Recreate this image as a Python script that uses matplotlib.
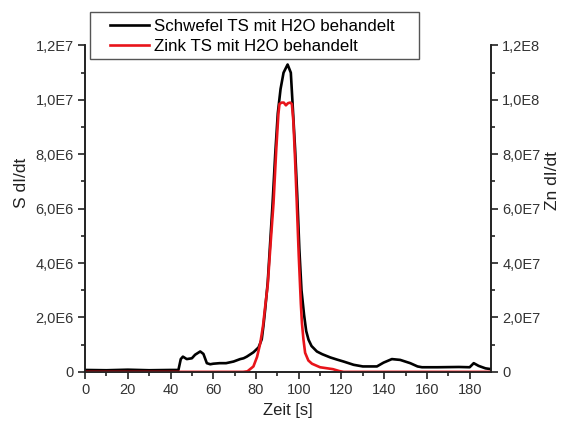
import matplotlib
matplotlib.use("Agg")
import matplotlib.pyplot as plt
from matplotlib.patches import Rectangle
import numpy as np

plt.rcParams['font.family'] = ['Liberation Sans', 'DejaVu Sans']

# Sulfur signal (left axis), values in units of 1E6
t_S = [0, 10, 20, 30, 40, 43.7, 44.8, 45.8, 47.6, 50, 51.5, 53.9, 55.4, 57, 58.6,
       60, 63, 66, 69.5, 72.6, 74.2, 75.7, 78.8, 81.2, 82.7, 83.5, 84.3, 85.5, 87.7,
       89, 90.2, 91.5, 92.9, 94.8, 96.3, 97.1, 98.3, 99.3, 100.3, 101.3, 102.5, 103.5,
       104.6, 106, 108.5, 111, 114.8, 118, 121, 125.7, 130, 136.6, 139.7, 143.6,
       147.5, 152.2, 155.6, 157.7, 165, 175, 180, 181.9, 184.2, 187.4, 190]
S_vals = [0.07, 0.06, 0.08, 0.06, 0.07, 0.07, 0.47, 0.56, 0.47, 0.5, 0.63, 0.75,
          0.66, 0.32, 0.28, 0.3, 0.32, 0.32, 0.38, 0.47, 0.5, 0.56, 0.72, 0.9, 1.2,
          1.7, 2.3, 3.3, 6.1, 8.0, 9.5, 10.4, 11.0, 11.3, 11.0, 9.9, 8.2, 6.5, 4.5,
          3.0, 2.1, 1.5, 1.18, 0.95, 0.75, 0.65, 0.53, 0.45, 0.38, 0.26, 0.2, 0.2,
          0.34, 0.47, 0.44, 0.32, 0.2, 0.17, 0.17, 0.18, 0.17, 0.32, 0.22, 0.13, 0.1]
S_vals = [v * 1e6 for v in S_vals]

# Zinc signal (right axis), values in units of 1E7
t_Zn = [0, 74, 76, 78.8, 80.5, 82, 83.3, 84.3, 85.5, 87, 88.2, 89.5, 90.5, 91, 92,
        93, 94, 95, 96, 96.8, 97.5, 98.3, 99.1, 100, 101, 101.5, 102.2, 103, 104.5,
        106.2, 110, 116, 119, 121, 150, 190]
Zn_vals = [0, 0, 0.02, 0.2, 0.55, 1.05, 1.7, 2.4, 3.2, 4.9, 6.2, 8.2, 9.5, 9.85,
           9.9, 9.9, 9.8, 9.88, 9.9, 9.85, 9.2, 7.8, 6.2, 4.3, 2.5, 1.8, 1.2, 0.7,
           0.42, 0.3, 0.17, 0.1, 0.03, 0, 0, 0]
Zn_vals = [v * 1e7 for v in Zn_vals]

series_labels = ['Schwefel TS mit H2O behandelt', 'Zink TS mit H2O behandelt']
x_ticks = [0, 20, 40, 60, 80, 100, 120, 140, 160, 180]
yl_ticks = [0, 2e6, 4e6, 6e6, 8e6, 1e7, 1.2e7]
yl_labels = ['0', '2,0E6', '4,0E6', '6,0E6', '8,0E6', '1,0E7', '1,2E7']
yr_ticks = [0, 2e7, 4e7, 6e7, 8e7, 1e8, 1.2e8]
yr_labels = ['0', '2,0E7', '4,0E7', '6,0E7', '8,0E7', '1,0E8', '1,2E8']

fig = plt.figure(figsize=(5.67, 4.25), dpi=100)
ax = fig.add_axes([0.150, 0.125, 0.716, 0.768])
ax2 = ax.twinx()

axcol = '#222222'
l1, = ax.plot(t_S, S_vals, color='black', lw=1.9, label=series_labels[0], zorder=3)
l2, = ax2.plot(t_Zn, Zn_vals, color='#e8141a', lw=1.9, label=series_labels[1], zorder=2)

ax.set_xlim(0, 190)
ax.set_ylim(0, 1.2e7)
ax2.set_ylim(0, 1.2e8)

ax.set_xticks(x_ticks)
ax.set_xticklabels([str(v) for v in x_ticks])
ax.set_xticks(np.arange(10, 190, 20), minor=True)
ax.set_yticks(yl_ticks)
ax.set_yticklabels(yl_labels)
ax.set_yticks(np.arange(1e6, 1.2e7, 2e6), minor=True)
ax2.set_yticks(yr_ticks)
ax2.set_yticklabels(yr_labels)
ax2.set_yticks(np.arange(1e7, 1.2e8, 2e7), minor=True)

for a in (ax, ax2):
    a.spines['top'].set_visible(False)
    for s in a.spines.values():
        s.set_color(axcol)
        s.set_linewidth(1.2)
    a.tick_params(which='major', direction='out', length=5, width=1.2, color=axcol,
                  labelsize=10.5, labelcolor='#333333', pad=3)
    a.tick_params(which='minor', direction='out', length=3, width=1.2, color=axcol)

ax.set_xlabel('Zeit [s]', fontsize=12, color='#222222', labelpad=4)
ax.set_ylabel('S dI/dt', fontsize=12.5, color='#222222')
ax2.set_ylabel('Zn dI/dt', fontsize=12.5, color='#222222')
ax.yaxis.set_label_coords(-0.138, 0.58)
ax2.yaxis.set_label_coords(1.133, 0.585)

# legend frame drawn as a box above the plot
fig.patches.append(Rectangle((90 / 567, 1 - 59 / 425), (419 - 90) / 567, 47 / 425,
                             transform=fig.transFigure, fill=True, facecolor='white',
                             edgecolor='#555555', lw=1.0, zorder=5))
leg = fig.legend(handles=[l1, l2], loc='upper left', bbox_to_anchor=(110 / 567, 1 - 19 / 425),
                 fontsize=12.2, frameon=False, borderaxespad=0, borderpad=0,
                 handlelength=2.3, handletextpad=0.3, labelspacing=0.3)
leg.set_zorder(6)

fig.savefig('out.png', dpi=100)
